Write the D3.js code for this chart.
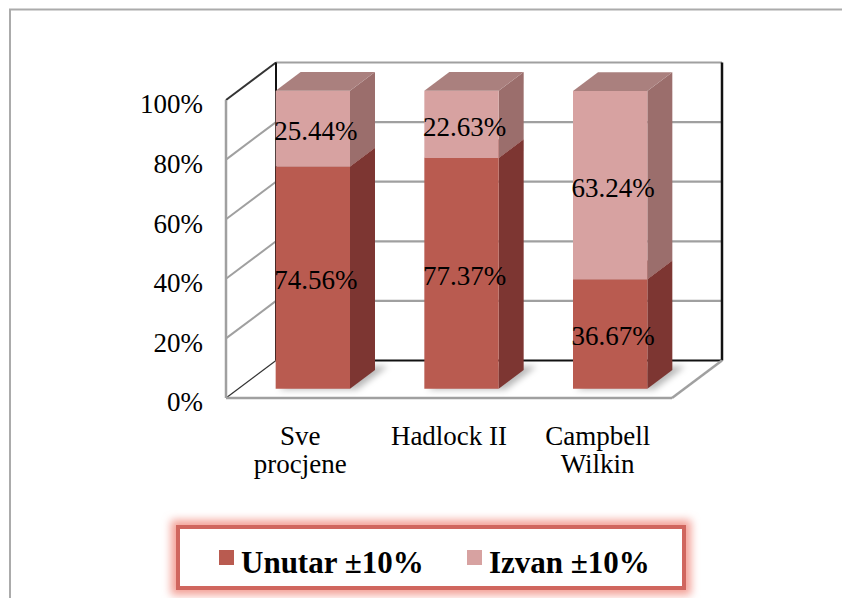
<!DOCTYPE html>
<html>
<head>
<meta charset="utf-8">
<script src="https://cdn.jsdelivr.net/npm/d3@7"></script>
<style>
  body { margin: 0; background: #fff; }
</style>
</head>
<body>
<div id="chart"></div>
<script>
// chart data
var categories = ["Sve procjene", "Hadlock II", "Campbell Wilkin"];
var categoryLines = [["Sve", "procjene"], ["Hadlock II"], ["Campbell", "Wilkin"]];
var unutar = [74.56, 77.37, 36.67];
var izvan = [25.44, 22.63, 63.24];
var seriesNames = ["Unutar ±10%", "Izvan ±10%"];
var tickValues = [0, 20, 40, 60, 80, 100];

var W = 842, H = 598;
var DX = 50, DY = 37.5;           // depth offset of the 3d box
var z0 = 0.25, z1 = 0.75;         // bar depth range
var FONT = "'Liberation Serif', 'Times New Roman', serif";

var colors = {
    front: ["#b95b50", "#d7a2a1"],
    side: ["#7d3632", "#9b6e6c"],
    top: ["#9a4a44", "#aa807e"]
};

var svg = d3.select("#chart").append("svg")
    .attr("width", W)
    .attr("height", H)
    .attr("font-family", FONT);

var defs = svg.append("defs");
defs.append("filter").attr("id", "blur")
    .attr("x", "-20%").attr("y", "-50%").attr("width", "140%").attr("height", "200%")
    .append("feGaussianBlur").attr("stdDeviation", 4);
defs.append("filter").attr("id", "shadow")
    .attr("x", "-50%").attr("y", "-50%").attr("width", "200%").attr("height", "200%")
    .append("feGaussianBlur").attr("stdDeviation", 3);

// outer frame
svg.append("rect")
    .attr("x", 10).attr("y", 9.5)
    .attr("width", 900).attr("height", 700)
    .attr("fill", "none")
    .attr("stroke", "#ababab")
    .attr("stroke-width", 2);

// scales
var x = d3.scaleBand()
    .domain(categories)
    .range([226, 672])
    .paddingInner(0.5)
    .paddingOuter(0.25);

var y = d3.scaleLinear()
    .domain([0, 100])
    .range([398, 100]);

var x0 = x.range()[0], x1 = x.range()[1];

function proj(px, v, z) {
    return [px + z * DX, y(v) - z * DY];
}

function seg(g, a, b, color, width) {
    g.append("line")
        .attr("x1", a[0]).attr("y1", a[1])
        .attr("x2", b[0]).attr("y2", b[1])
        .attr("stroke", color)
        .attr("stroke-width", width);
}

// walls and grid
var walls = svg.append("g");
tickValues.forEach(function (t) {
    if (t > 0) seg(walls, proj(x0, t, 1), proj(x1, t, 1), "#a0a0a0", 2.2);
    seg(walls, proj(x0, t, 0), proj(x0, t, 1), (t == 0 || t == 100) ? "#333" : "#a0a0a0", t == 0 ? 1.2 : 2);
});
seg(walls, proj(x0, 0, 1), proj(x1, 0, 1), "#111", 2);
seg(walls, proj(x0, 0, 1), proj(x0, 100, 1), "#111", 2);
seg(walls, proj(x1, 0, 1), proj(x1, 100, 1), "#111", 2.5);
seg(walls, proj(x0, 0, 0), proj(x0, 100, 0), "#a0a0a0", 2.5);
seg(walls, proj(x0, 0, 0), proj(x1, 0, 0), "#a0a0a0", 2.5);
seg(walls, proj(x1, 0, 0), proj(x1, 0, 1), "#a0a0a0", 2.5);

// stacked data
var rows = categories.map(function (c, i) {
    return { cat: c, unutar: unutar[i], izvan: izvan[i] };
});
var stacked = d3.stack().keys(["unutar", "izvan"])(rows);

function poly(pts) {
    return pts.map(function (p) { return p.join(","); }).join(" ");
}

// floor shadows
svg.append("g").selectAll("polygon")
    .data(rows)
    .join("polygon")
    .attr("points", function (d) {
        var xa = x(d.cat) + 4, xb = x(d.cat) + x.bandwidth() + 8;
        return poly([proj(xa, 0, z0 - 0.02), proj(xb, 0, z0 - 0.02), proj(xb, 0, z1 + 0.1), proj(xa, 0, z1 + 0.1)]);
    })
    .attr("fill", "rgba(0,0,0,0.28)")
    .attr("filter", "url(#shadow)");

// bars
var bars = svg.append("g");
rows.forEach(function (row, i) {
    stacked.forEach(function (layer, k) {
        var v0 = layer[i][0], v1 = layer[i][1];
        var xa = x(row.cat), xb = xa + x.bandwidth();
        var g = bars.append("g");
        g.append("polygon")
            .attr("points", poly([proj(xb, v0, z0), proj(xb, v0, z1), proj(xb, v1, z1), proj(xb, v1, z0)]))
            .attr("fill", colors.side[k]);
        g.append("polygon")
            .attr("points", poly([proj(xa, v0, z0), proj(xb, v0, z0), proj(xb, v1, z0), proj(xa, v1, z0)]))
            .attr("fill", colors.front[k]);
        g.append("polygon")
            .attr("points", poly([proj(xa, v1, z0), proj(xb, v1, z0), proj(xb, v1, z1), proj(xa, v1, z1)]))
            .attr("fill", colors.top[k]);
    });
});

// data labels
var labels = svg.append("g");
rows.forEach(function (row, i) {
    stacked.forEach(function (layer) {
        var v0 = layer[i][0], v1 = layer[i][1];
        var p = proj(x(row.cat) + x.bandwidth() / 2 + 3, (v0 + v1) / 2, z0);
        labels.append("text")
            .attr("x", p[0])
            .attr("y", p[1] + 2)
            .attr("dy", "0.35em")
            .attr("text-anchor", "middle")
            .attr("font-family", FONT)
            .attr("font-size", 27)
            .attr("fill", "#000")
            .text((v1 - v0).toFixed(2) + "%");
    });
});

// y axis
var yAxis = svg.append("g")
    .attr("transform", "translate(203,0)")
    .call(d3.axisLeft(y)
        .tickValues(tickValues)
        .tickSize(0)
        .tickPadding(0)
        .tickFormat(function (d) { return d + "%"; }));
yAxis.select(".domain").remove();
yAxis.attr("font-family", FONT).attr("font-size", 27);
yAxis.selectAll("text")
    .attr("dy", "0.48em")
    .attr("font-family", FONT)
    .attr("fill", "#000");

// category labels
var catG = svg.append("g");
categories.forEach(function (c, i) {
    var t = catG.append("text")
        .attr("x", x(c) + x.bandwidth() / 2)
        .attr("y", 445)
        .attr("text-anchor", "middle")
        .attr("font-family", FONT)
        .attr("font-size", 27)
        .attr("fill", "#000");
    categoryLines[i].forEach(function (line, j) {
        t.append("tspan")
            .attr("x", x(c) + x.bandwidth() / 2)
            .attr("dy", j == 0 ? 0 : 28)
            .text(line);
    });
});

// legend
var legend = svg.append("g");
legend.append("rect")
    .attr("x", 178).attr("y", 527)
    .attr("width", 506).attr("height", 61)
    .attr("fill", "none")
    .attr("stroke", "#f3a096")
    .attr("stroke-width", 14)
    .attr("filter", "url(#blur)");
legend.append("rect")
    .attr("x", 178).attr("y", 527)
    .attr("width", 506).attr("height", 61)
    .attr("fill", "#fff")
    .attr("stroke", "#d0665e")
    .attr("stroke-width", 4);

var legendX = [219, 467];
seriesNames.forEach(function (name, k) {
    legend.append("rect")
        .attr("x", legendX[k]).attr("y", 550)
        .attr("width", 15).attr("height", 15)
        .attr("fill", colors.front[k]);
    legend.append("text")
        .attr("x", legendX[k] + 22)
        .attr("y", 573)
        .attr("font-family", FONT)
        .attr("font-size", 31)
        .attr("font-weight", "bold")
        .attr("fill", "#000")
        .text(name);
});
</script>
</body>
</html>
